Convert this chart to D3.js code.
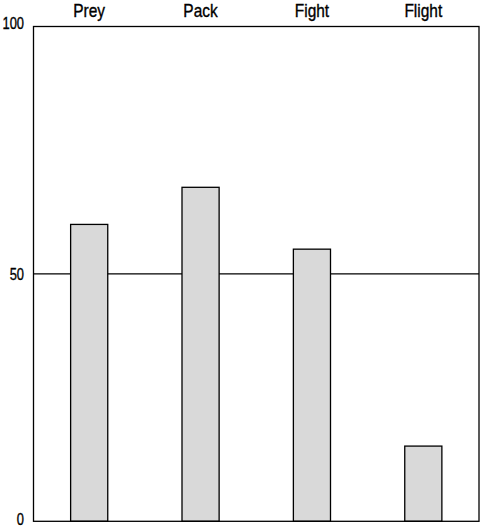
<!DOCTYPE html>
<html><head><meta charset="utf-8">
<script src="https://cdn.jsdelivr.net/npm/d3@7"></script>
<style>body{margin:0;background:#fff;} text{font-family:"Liberation Sans Narrow","Arial Narrow","Liberation Sans",Arial,sans-serif;fill:#000;stroke:#000;stroke-width:0.35px;}</style>
</head><body>
<svg id="c" width="481" height="530"></svg>
<script>
const categories = ["Prey", "Pack", "Fight", "Flight"];
const values = [60, 67.5, 55, 15.2];
const yTicks = [0, 50, 100];

const svg = d3.select("#c");
const m = {left: 33.5, right: 479, top: 26.5, bottom: 521.3};
const x = d3.scaleBand().domain(categories).range([m.left, m.right]).paddingInner(2/3).paddingOuter(1/3);
const xc = d3.scaleBand().domain(categories).range([m.left, m.right]).padding(0);
const y = d3.scaleLinear().domain([0, 100]).range([m.bottom, m.top]);
const sx = 0.86;

// reference line at 50
svg.append("line").attr("x1", m.left).attr("x2", m.right)
  .attr("y1", y(50)).attr("y2", y(50)).attr("stroke", "#000").attr("stroke-width", 1.3);

svg.selectAll("rect.bar").data(categories).join("rect").attr("class", "bar")
  .attr("x", d => x(d)).attr("width", x.bandwidth())
  .attr("y", (d, i) => y(values[i])).attr("height", (d, i) => y(0) - y(values[i]))
  .attr("fill", "#d9d9d9").attr("stroke", "#000").attr("stroke-width", 1.3);

// frame
svg.append("rect").attr("x", m.left).attr("y", m.top)
  .attr("width", m.right - m.left).attr("height", m.bottom - m.top)
  .attr("fill", "none").attr("stroke", "#000").attr("stroke-width", 1.3);

// y labels
const yOff = d => d === 100 ? -3 : (d === 0 ? -1.5 : 0);
svg.selectAll("text.yl").data(yTicks).join("text").attr("class", "yl")
  .attr("transform", d => `translate(24,${y(d) + yOff(d)}) scale(0.76,1)`)
  .attr("dy", "0.33em").attr("text-anchor", "end")
  .attr("font-size", 17).text(d => d);

// category labels on top
svg.selectAll("text.xl").data(categories).join("text").attr("class", "xl")
  .attr("transform", d => `translate(${xc(d) + xc.bandwidth() / 2},17) scale(${sx},1)`)
  .attr("text-anchor", "middle")
  .attr("font-size", 18).text(d => d);
</script>
</body></html>
